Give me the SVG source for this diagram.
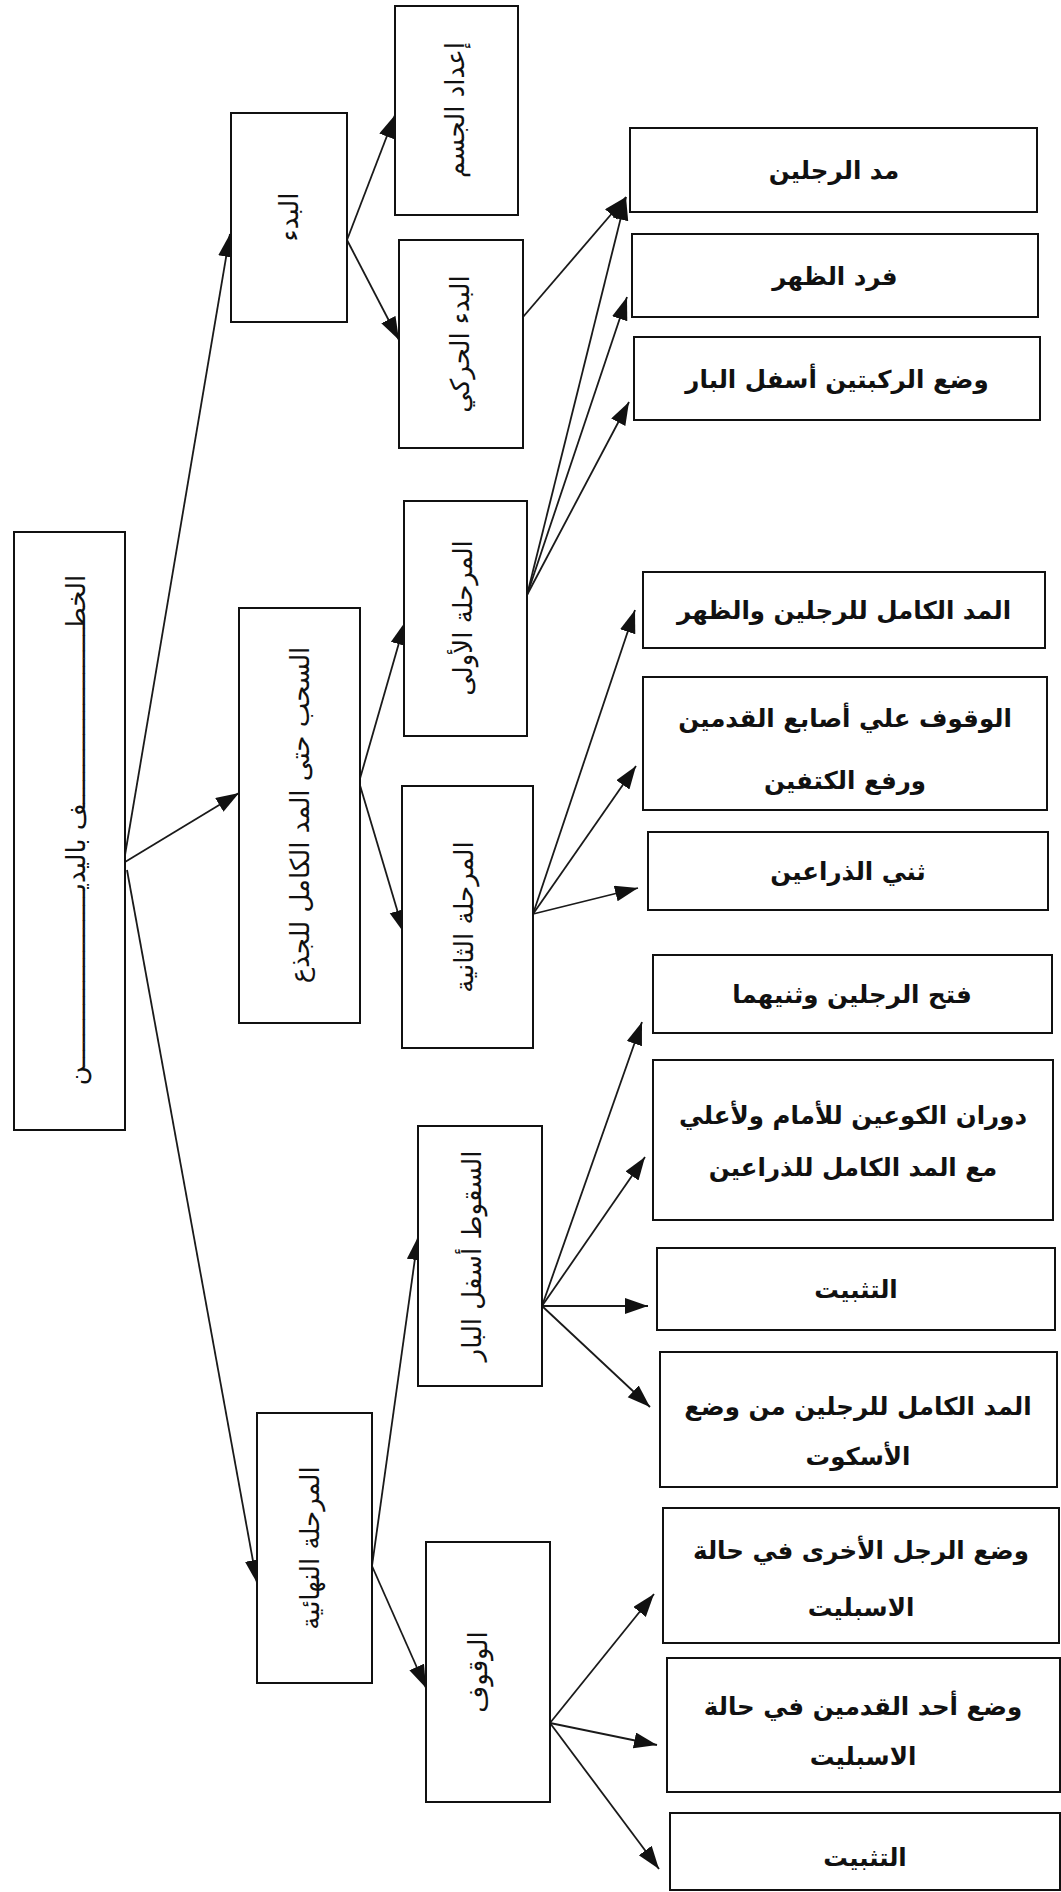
<svg xmlns="http://www.w3.org/2000/svg" width="1061" height="1892" viewBox="0 0 1061 1892">
<defs>
<marker id="ah" markerUnits="userSpaceOnUse" markerWidth="26" markerHeight="18" refX="23" refY="8" orient="auto">
<path d="M0,0 L23,8 L0,16 z" fill="#111"/>
</marker>
<style>
.box{fill:#fff;stroke:#111;stroke-width:2}
.edge{fill:none;stroke:#1a1a1a;stroke-width:1.8;marker-end:url(#ah)}
.h{font-family:"DejaVu Sans",sans-serif;font-weight:bold;font-size:24.5px;fill:#111;text-anchor:middle;dominant-baseline:central}
.v{font-family:"DejaVu Sans",sans-serif;font-size:26px;fill:#111;text-anchor:middle;dominant-baseline:central}
</style>
</defs>
<rect width="1061" height="1892" fill="#fff"/>
<g id="connectors">
<path class="edge" d="M125,855 L230,234"/>
<path class="edge" d="M125,862 L239,793"/>
<path class="edge" d="M127,870 L257,1583"/>
<path class="edge" d="M347,240 L395,115"/>
<path class="edge" d="M347,240 L399,340"/>
<path class="edge" d="M523,317 L626,197"/>
<path class="edge" d="M527,595 L626,197"/>
<path class="edge" d="M527,595 L627,297"/>
<path class="edge" d="M527,595 L629,402"/>
<path class="edge" d="M359,782 L405,622"/>
<path class="edge" d="M359,782 L404,933"/>
<path class="edge" d="M533,914 L635,610"/>
<path class="edge" d="M533,914 L636,766"/>
<path class="edge" d="M533,914 L638,888"/>
<path class="edge" d="M542,1306 L642,1022"/>
<path class="edge" d="M542,1306 L645,1157"/>
<path class="edge" d="M542,1306 L648,1306"/>
<path class="edge" d="M542,1306 L650,1407"/>
<path class="edge" d="M372,1566 L418,1237"/>
<path class="edge" d="M372,1566 L426,1688"/>
<path class="edge" d="M550,1723 L654,1594"/>
<path class="edge" d="M550,1723 L657,1745"/>
<path class="edge" d="M550,1723 L659,1869"/>
</g>
<g id="root"><rect class="box" x="14" y="532" width="111" height="598"/><text class="v" transform="translate(76,830) rotate(-90)">الخطـــــــــــــــــــــــف باليديـــــــــــــــــــــــن</text></g>
<g id="n-bad"><rect class="box" x="231" y="113" width="116" height="209"/><text class="v" transform="translate(289,217) rotate(-90)">البدء</text></g>
<g id="n-idad"><rect class="box" x="395" y="6" width="123" height="209"/><text class="v" transform="translate(455,110) rotate(-90)">إعداد الجسم</text></g>
<g id="n-harki"><rect class="box" x="399" y="240" width="124" height="208"/><text class="v" transform="translate(460,344) rotate(-90)">البدء الحركي</text></g>
<g id="n-sahb"><rect class="box" x="239" y="608" width="121" height="415"/><text class="v" transform="translate(300,815) rotate(-90)">السحب حتى المد الكامل للجذع</text></g>
<g id="n-ula"><rect class="box" x="404" y="501" width="123" height="235"/><text class="v" transform="translate(463,618) rotate(-90)">المرحلة الأولى</text></g>
<g id="n-thania"><rect class="box" x="402" y="786" width="131" height="262"/><text class="v" transform="translate(464,917) rotate(-90)">المرحلة الثانية</text></g>
<g id="n-nihaia"><rect class="box" x="257" y="1413" width="115" height="270"/><text class="v" transform="translate(310,1548) rotate(-90)">المرحلة النهائية</text></g>
<g id="n-suqut"><rect class="box" x="418" y="1126" width="124" height="260"/><text class="v" transform="translate(472,1256) rotate(-90)">السقوط أسفل البار</text></g>
<g id="n-wuquf"><rect class="box" x="426" y="1542" width="124" height="260"/><text class="v" transform="translate(478,1672) rotate(-90)">الوقوف</text></g>
<g id="r1"><rect class="box" x="630" y="128" width="407" height="84"/><text class="h" x="834" y="170">مد الرجلين</text></g>
<g id="r2"><rect class="box" x="632" y="234" width="406" height="83"/><text class="h" x="835" y="276">فرد الظهر</text></g>
<g id="r3"><rect class="box" x="634" y="337" width="406" height="83"/><text class="h" x="837" y="379">وضع الركبتين أسفل البار</text></g>
<g id="r4"><rect class="box" x="643" y="572" width="402" height="76"/><text class="h" x="844" y="610">المد الكامل للرجلين والظهر</text></g>
<g id="r5"><rect class="box" x="643" y="677" width="404" height="133"/><text class="h" x="845" y="718">الوقوف علي أصابع القدمين</text><text class="h" x="845" y="780">ورفع الكتفين</text></g>
<g id="r6"><rect class="box" x="648" y="832" width="400" height="78"/><text class="h" x="848" y="871">ثني الذراعين</text></g>
<g id="r7"><rect class="box" x="653" y="955" width="399" height="78"/><text class="h" x="852" y="994">فتح الرجلين وثنيهما</text></g>
<g id="r8"><rect class="box" x="653" y="1060" width="400" height="160"/><text class="h" x="853" y="1115">دوران الكوعين للأمام ولأعلي</text><text class="h" x="853" y="1167">مع المد الكامل للذراعين</text></g>
<g id="r9"><rect class="box" x="657" y="1248" width="398" height="82"/><text class="h" x="856" y="1289">التثبيت</text></g>
<g id="r10"><rect class="box" x="660" y="1352" width="397" height="135"/><text class="h" x="858" y="1406">المد الكامل للرجلين من وضع</text><text class="h" x="858" y="1456">الأسكوت</text></g>
<g id="r11"><rect class="box" x="663" y="1508" width="396" height="135"/><text class="h" x="861" y="1550">وضع الرجل الأخرى في حالة</text><text class="h" x="861" y="1607">الاسبليت</text></g>
<g id="r12"><rect class="box" x="667" y="1658" width="393" height="134"/><text class="h" x="863" y="1706">وضع أحد القدمين في حالة</text><text class="h" x="863" y="1756">الاسبليت</text></g>
<g id="r13"><rect class="box" x="670" y="1813" width="390" height="77"/><text class="h" x="865" y="1857">التثبيت</text></g>
</svg>
